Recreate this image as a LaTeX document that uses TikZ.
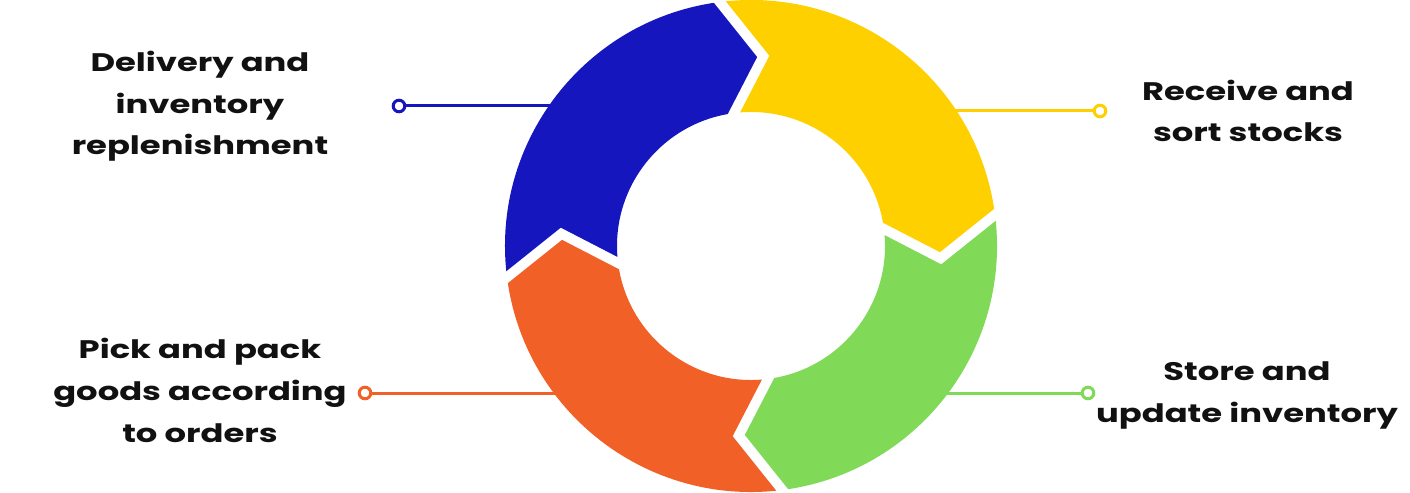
\documentclass[tikz,border=0pt]{standalone}
\usepackage{fontspec}
\setmainfont{Poppins}[FakeStretch=1.33]
\usetikzlibrary{calc}
\definecolor{cblue}{HTML}{1616BE}
\definecolor{cyel}{HTML}{FFD000}
\definecolor{cgreen}{HTML}{80DA58}
\definecolor{corange}{HTML}{F16026}
\definecolor{ctext}{HTML}{111111}
\tikzset{
  gapline/.style={draw=white, line width=10bp, line join=miter},
  lbl/.style={font=\fontsize{25.5}{42}\selectfont\bfseries, text=ctext, align=center, inner sep=0pt, anchor=base},
  dot/.style={circle, draw=#1, fill=white, line width=3bp, minimum size=11.6bp, inner sep=0pt},
  conn/.style={draw=#1, line width=3bp},
}
\begin{document}
\begin{tikzpicture}[x=1bp, y=-1bp]
\useasboundingbox (0,0) rectangle (1410,493);
% connector end points on the ring edge
\coordinate (eb) at (560,106);
\coordinate (ey) at (945,111);
\coordinate (eg) at (935,393);
\coordinate (eo) at (566,393);
\node[dot=cblue] (db) at (399,106) {};
\node[dot=cyel] (dy) at (1100,111) {};
\node[dot=cgreen] (dg) at (1088,393) {};
\node[dot=corange] (do) at (365,393) {};
\draw[conn=cblue] (db) -- (eb);
\draw[conn=cyel] (dy) -- (ey);
\draw[conn=cgreen] (dg) -- (eg);
\draw[conn=corange] (do) -- (eo);
\begin{scope}[shift={(751,246)}, yscale=-1]
  \fill[cyel] (97.3:246) arc[start angle=97.3, end angle=7.3, radius=246] -- (-3.7:190) -- (7.3:134) arc[start angle=7.3, end angle=97.3, radius=134] -- (86.3:190) -- cycle;
  \fill[cgreen] (7.3:246) arc[start angle=7.3, end angle=-82.7, radius=246] -- (-93.7:190) -- (-82.7:134) arc[start angle=-82.7, end angle=7.3, radius=134] -- (-3.7:190) -- cycle;
  \fill[corange] (-82.7:246) arc[start angle=-82.7, end angle=-172.7, radius=246] -- (-183.7:190) -- (-172.7:134) arc[start angle=-172.7, end angle=-82.7, radius=134] -- (-93.7:190) -- cycle;
  \fill[cblue] (-172.7:246) arc[start angle=-172.7, end angle=-262.7, radius=246] -- (-273.7:190) -- (-262.7:134) arc[start angle=-262.7, end angle=-172.7, radius=134] -- (-183.7:190) -- cycle;
  \foreach \b in {97.3, 7.3, -82.7, -172.7} {
    \draw[gapline] ($(\b-11:190)!1.25!(\b:246)$) -- (\b-11:190) -- ($(\b-11:190)!1.25!(\b:134)$);
  }
\end{scope}
\node[lbl] (tb) at (200,155) {Delivery and\\inventory\\replenishment};
\node[lbl] (ty) at (1248,142) {Receive and\\sort stocks};
\node[lbl] (tg) at (1247,422) {Store and\\update inventory};
\node[lbl] (to) at (200,442) {Pick and pack\\goods according\\to orders};
\end{tikzpicture}
\end{document}
